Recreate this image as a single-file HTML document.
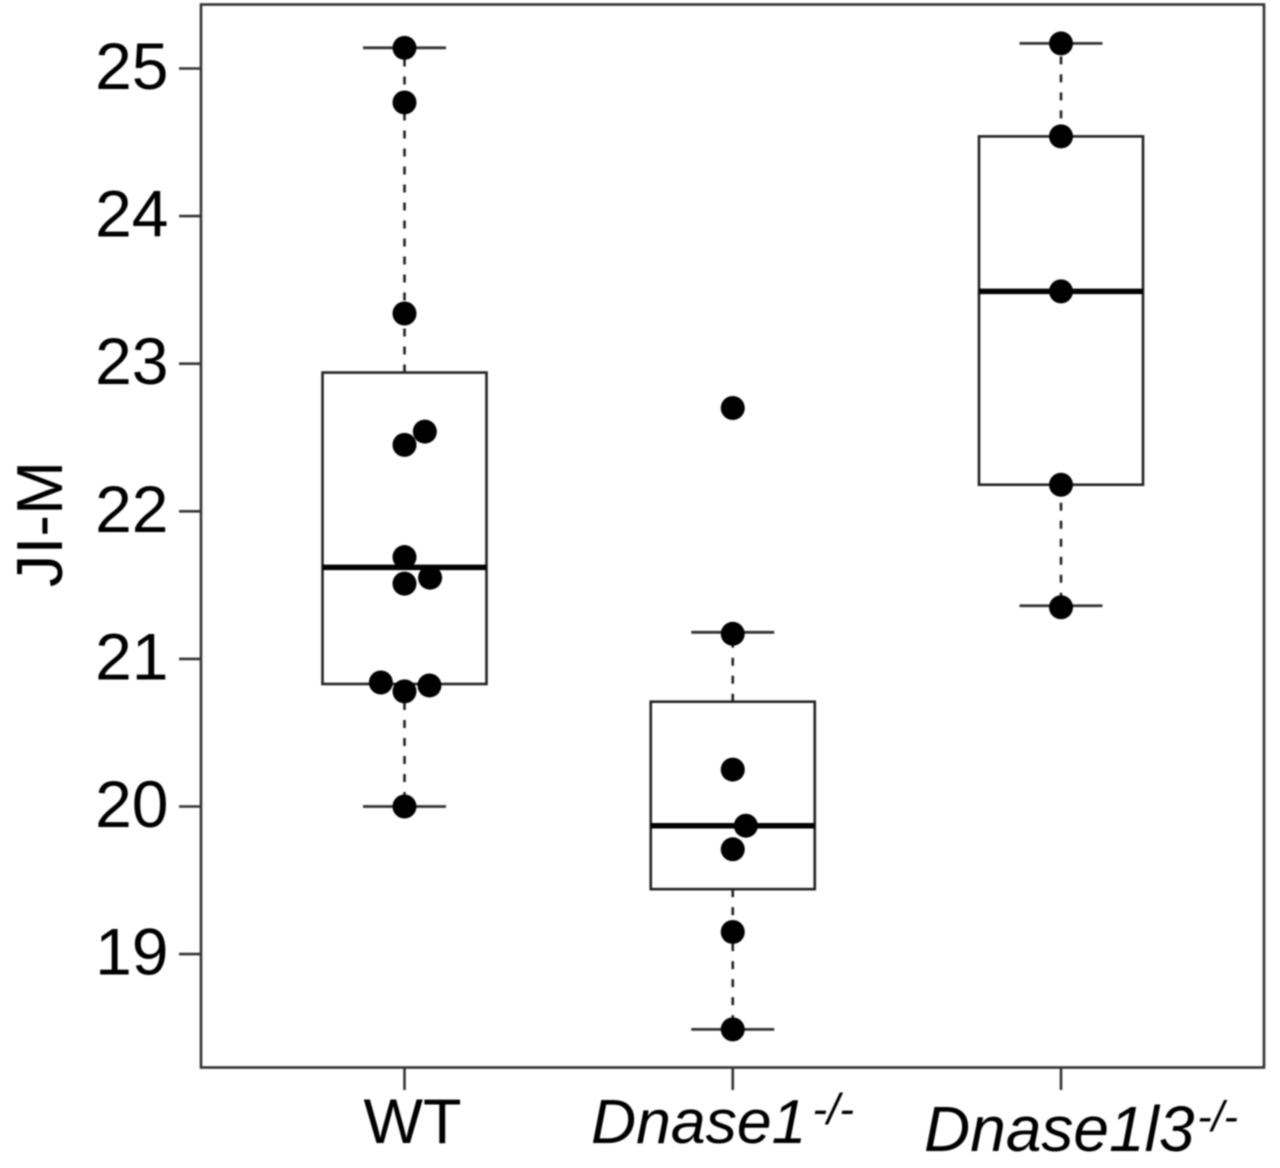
<!DOCTYPE html>
<html lang="en">
<head>
<meta charset="utf-8">
<title>JI-M box plot</title>
<style>
html,body{margin:0;padding:0;background:#fff;width:1280px;height:1168px;overflow:hidden}
svg{display:block;filter:blur(0.7px)}
text{font-family:"Liberation Sans",sans-serif;fill:#000}
</style>
</head>
<body>
<svg id="chart" width="1280" height="1168" viewBox="0 0 1280 1168" xmlns="http://www.w3.org/2000/svg">
  <rect x="0" y="0" width="1280" height="1168" fill="#fff"/>
  <rect x="201" y="4.5" width="1063" height="1063" fill="none" stroke="#333" stroke-width="2.6"/>
  <g id="marks"></g>
  <g id="axes"></g>
  <text transform="translate(62,524) rotate(-90)" text-anchor="middle" font-size="65">JI-M</text>
  <text x="412.5" y="1143" text-anchor="middle" font-size="63">WT</text>
  <text x="591" y="1143" font-size="62.5" font-style="italic">Dnase1<tspan dx="6" dy="-19" font-size="44">-/-</tspan></text>
  <text x="924" y="1151" font-size="64" font-style="italic">Dnase1l3<tspan dx="3" dy="-20" font-size="43">-/-</tspan></text>
</svg>
<script>
const categories = ['WT', 'Dnase1-/-', 'Dnase1l3-/-'];
const yTickValues = [19, 20, 21, 22, 23, 24, 25];
const yTickLabels = ['19', '20', '21', '22', '23', '24', '25'];

const boxQ1 = [20.83, 19.44, 22.18];
const boxMedian = [21.62, 19.87, 23.49];
const boxQ3 = [22.94, 20.71, 24.54];
const whiskerLow = [20.0, 18.49, 21.36];
const whiskerHigh = [25.14, 21.18, 25.17];

const wtValues = [25.14, 24.77, 23.34, 22.54, 22.45, 21.69, 21.55, 21.51, 20.84, 20.82, 20.78, 20.0];
const wtJitter = [0, 0, 0, 0.062, 0, 0, 0.078, 0, -0.072, 0.076, 0, 0];
const dnase1Values = [22.70, 21.17, 20.25, 19.87, 19.71, 19.15, 18.49];
const dnase1Jitter = [0, 0, 0, 0.04, 0, 0, 0];
const dnase1l3Values = [25.17, 24.54, 23.49, 22.18, 21.35];
const dnase1l3Jitter = [0, 0, 0, 0, 0];

const pointValues = [wtValues, dnase1Values, dnase1l3Values];
const pointJitter = [wtJitter, dnase1Jitter, dnase1l3Jitter];

function xScale(v) { return 404.5 + (v - 1) * 328.25; }
function yScale(v) { return 68.5 + (25 - v) * 147.6; }

const NS = 'http://www.w3.org/2000/svg';
const marks = document.getElementById('marks');
const axes = document.getElementById('axes');

function line(parent, x1, y1, x2, y2, stroke, width, dash) {
  const el = document.createElementNS(NS, 'line');
  el.setAttribute('x1', x1);
  el.setAttribute('y1', y1);
  el.setAttribute('x2', x2);
  el.setAttribute('y2', y2);
  el.setAttribute('stroke', stroke);
  el.setAttribute('stroke-width', width);
  if (dash) el.setAttribute('stroke-dasharray', dash);
  parent.appendChild(el);
  return el;
}

const boxHalf = 82 / 328.25;
const capHalf = 41.5 / 328.25;

categories.forEach(function (cat, i) {
  const c = i + 1;
  const cx = xScale(c);

  const upper = line(marks, cx, yScale(boxQ3[i]), cx, yScale(whiskerHigh[i]), '#222', 2.6, '8 10');
  
  

  const lower = line(marks, cx, yScale(boxQ1[i]), cx, yScale(whiskerLow[i]), '#222', 2.6, '8 10');
  
  

  const capHigh = line(marks, xScale(c - capHalf), yScale(whiskerHigh[i]), xScale(c + capHalf), yScale(whiskerHigh[i]), '#333', 2.8);
  
  

  const capLow = line(marks, xScale(c - capHalf), yScale(whiskerLow[i]), xScale(c + capHalf), yScale(whiskerLow[i]), '#333', 2.8);
  
  

  const box = document.createElementNS(NS, 'rect');
  
  
  box.setAttribute('x', xScale(c - boxHalf));
  box.setAttribute('y', yScale(boxQ3[i]));
  box.setAttribute('width', xScale(c + boxHalf) - xScale(c - boxHalf));
  box.setAttribute('height', yScale(boxQ1[i]) - yScale(boxQ3[i]));
  box.setAttribute('fill', 'none');
  box.setAttribute('stroke', '#222');
  box.setAttribute('stroke-width', '2.6');
  marks.appendChild(box);

  const med = line(marks, xScale(c - boxHalf), yScale(boxMedian[i]), xScale(c + boxHalf), yScale(boxMedian[i]), '#000', 5.5);
  
  

  pointValues[i].forEach(function (v, j) {
    const dot = document.createElementNS(NS, 'circle');
    
    
    dot.setAttribute('cx', xScale(c + pointJitter[i][j]));
    dot.setAttribute('cy', yScale(v));
    dot.setAttribute('r', 12);
    dot.setAttribute('fill', '#000');
    marks.appendChild(dot);
  });

  const xt = line(axes, cx, 1067, cx, 1090, '#333', 2.6);
  
  
});

yTickValues.forEach(function (v, i) {
  const yt = line(axes, 179, yScale(v), 201, yScale(v), '#333', 2.6);
  
  

  const lab = document.createElementNS(NS, 'text');
  
  
  lab.setAttribute('x', 168.5);
  lab.setAttribute('y', yScale(v) + 20.5);
  lab.setAttribute('text-anchor', 'end');
  lab.setAttribute('font-size', 66);
  lab.textContent = yTickLabels[i];
  axes.appendChild(lab);
});
</script>
</body>
</html>
